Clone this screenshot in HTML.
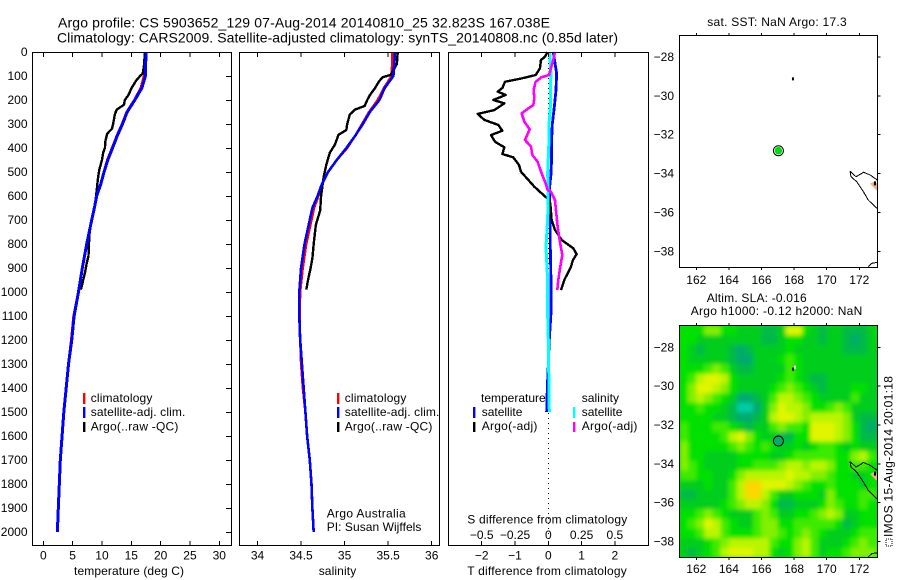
<!DOCTYPE html>
<html lang="en">
<head>
<meta charset="utf-8">
<title>Argo profile CS 5903652_129</title>
<style>
html,body{margin:0;padding:0;background:#fff;}
svg{display:block;}
text{font-family:"Liberation Sans",sans-serif;font-size:12px;fill:#000;}
.t14{font-size:14px;}
</style>
</head>
<body>
<svg id="chart" xmlns="http://www.w3.org/2000/svg" width="900" height="580" viewBox="0 0 900 580">
  <defs>
    <clipPath id="clip-map2"><rect x="680" y="325" width="198" height="232"/></clipPath>
    <filter id="soft" x="-5%" y="-5%" width="110%" height="110%"><feGaussianBlur stdDeviation="2"/></filter>
  </defs>
  <rect x="0" y="0" width="900" height="580" fill="#fff"/>

  <text class="t14" x="58" y="27.5" textLength="492" lengthAdjust="spacing">Argo profile: CS 5903652_129 07-Aug-2014 20140810_25 32.823S 167.038E</text>
  <text class="t14" x="57" y="42.5" textLength="561" lengthAdjust="spacing">Climatology: CARS2009. Satellite-adjusted climatology: synTS_20140808.nc (0.85d later)</text>

  <g id="temp-panel"></g>
  <g id="sal-panel"></g>
  <g id="diff-panel"></g>
  <g id="map1"></g>
  <g id="map2"></g>

  <text x="74" y="575" textLength="110" lengthAdjust="spacing">temperature (deg C)</text>
  <text x="318.7" y="575" textLength="37.5" lengthAdjust="spacing">salinity</text>
  <text x="467.3" y="575" textLength="159.5" lengthAdjust="spacing">T difference from climatology</text>
  <text x="467.3" y="523.5" textLength="160" lengthAdjust="spacing">S difference from climatology</text>

  <g>
    <rect x="83" y="393" width="2.4" height="11" fill="#f00"/>
    <rect x="83" y="407" width="2.4" height="11" fill="#00f"/>
    <rect x="83" y="422" width="2.4" height="10" fill="#000"/>
    <text x="90.7" y="402" textLength="61.7" lengthAdjust="spacing">climatology</text>
    <text x="90.7" y="416" textLength="94.7" lengthAdjust="spacing">satellite-adj. clim.</text>
    <text x="90.7" y="430.5" textLength="87.7" lengthAdjust="spacing">Argo(..raw -QC)</text>
  </g>
  <g>
    <rect x="337" y="393" width="2.4" height="11" fill="#f00"/>
    <rect x="337" y="407" width="2.4" height="11" fill="#00f"/>
    <rect x="337" y="422" width="2.4" height="10" fill="#000"/>
    <text x="344.7" y="402" textLength="61.7" lengthAdjust="spacing">climatology</text>
    <text x="344.7" y="416" textLength="94.7" lengthAdjust="spacing">satellite-adj. clim.</text>
    <text x="344.7" y="430.5" textLength="87.7" lengthAdjust="spacing">Argo(..raw -QC)</text>
    <text x="326.7" y="517.5" textLength="79" lengthAdjust="spacing">Argo Australia</text>
    <text x="326.7" y="531" textLength="94.7" lengthAdjust="spacing">PI: Susan Wijffels</text>
  </g>
  <g>
    <text x="481" y="402" textLength="64.7" lengthAdjust="spacing">temperature</text>
    <text x="481.7" y="416" textLength="40.7" lengthAdjust="spacing">satellite</text>
    <text x="481.7" y="430" textLength="55.7" lengthAdjust="spacing">Argo(-adj)</text>
    <text x="581.7" y="402" textLength="37.3" lengthAdjust="spacing">salinity</text>
    <text x="581.7" y="416" textLength="40.7" lengthAdjust="spacing">satellite</text>
    <text x="581.7" y="430" textLength="55.7" lengthAdjust="spacing">Argo(-adj)</text>
    <rect x="473" y="407" width="2.4" height="11" fill="#00f"/>
    <rect x="473" y="422" width="2.4" height="10" fill="#000"/>
    <rect x="573" y="407" width="2.4" height="11" fill="#0ff"/>
    <rect x="573" y="422" width="2.4" height="10" fill="#f0f"/>
  </g>

  <text x="707.3" y="26" textLength="139.4" lengthAdjust="spacing">sat. SST: NaN Argo: 17.3</text>
  <text x="706.7" y="302" textLength="100" lengthAdjust="spacing">Altim. SLA: -0.016</text>
  <text x="690.7" y="315" textLength="171.6" lengthAdjust="spacing">Argo h1000: -0.12 h2000: NaN</text>

  <rect x="886" y="539" width="6" height="7" fill="none" stroke="#000" stroke-width="1" stroke-dasharray="1 1"/>
  <text transform="translate(892.5 537) rotate(-90)" x="0" y="0" textLength="161" lengthAdjust="spacing">IMOS 15-Aug-2014 20:01:18</text>
</svg>

<script>
// ---------- chart data ----------
const depthTicks = [0,100,200,300,400,500,600,700,800,900,1000,1100,1200,1300,1400,1500,1600,1700,1800,1900,2000];
const tempTicks = [0,5,10,15,20,25,30];
const salTicks = [34,34.5,35,35.5,36];
const salTickLabels = ['34','34.5','35','35.5','36'];
const tDiffTicks = [-2,-1,0,1,2];
const tDiffTickLabels = ['\u22122','\u22121','0','1','2'];
const sDiffTicks = [-0.5,-0.25,0,0.25,0.5];
const sDiffTickLabels = ['\u22120.5','\u22120.25','0','0.25','0.5'];
const lonTicks = [162,164,166,168,170,172];
const latTicks = [-28,-30,-32,-34,-36,-38];

const climDepth = [0,100,150,200,250,300,350,400,450,500,550,600,650,700,800,900,1000,1100,1200,1300,1400,1500,1600,1700,1800,1900,2000];
const tempClim = [17.4,17.15,16.6,15.5,14.2,13.4,12.5,11.7,10.9,10.3,9.75,9.1,8.7,8.25,7.4,6.65,5.95,5.15,4.75,4.25,3.9,3.5,3.2,2.9,2.73,2.56,2.4];
const tempSat = [17.5,17.4,16.8,15.6,14.3,13.5,12.6,11.8,11.0,10.35,9.8,9.1,8.7,8.25,7.4,6.65,6.0,5.25,4.85,4.3,3.9,3.5,3.2,2.9,2.73,2.56,2.4];
const salClim = [35.55,35.54,35.45,35.38,35.28,35.2,35.12,35.03,34.91,34.81,34.74,34.7,34.65,34.62,34.56,34.52,34.49,34.485,34.49,34.5,34.52,34.55,34.57,34.6,34.62,34.63,34.645];
const salSat = [35.58,35.56,35.46,35.4,35.29,35.21,35.12,35.02,34.91,34.81,34.74,34.69,34.63,34.6,34.54,34.5,34.48,34.48,34.49,34.51,34.53,34.55,34.57,34.6,34.62,34.63,34.645];

const tempArgoDepth = [0,50,90,100,120,150,180,200,220,240,260,300,320,340,370,400,420,450,490,530,600,650,700,760,850,880,920,950,990];
const tempArgo = [17.3,17.2,16.95,16.5,15.8,15.05,14.5,13.9,13.75,12.5,12.2,11.9,11.7,10.9,10.6,10.5,10.2,10,9.55,9.3,9,8.7,8.25,7.85,7.7,7.4,7.1,6.8,6.4];
const salArgoDepth = [0,50,95,105,120,150,180,200,225,240,260,300,325,345,385,420,470,520,600,660,720,800,860,900,950,990];
const salArgo = [35.61,35.6,35.53,35.44,35.4,35.35,35.29,35.26,35.23,35.12,35.06,35.03,35.02,34.93,34.89,34.83,34.79,34.76,34.73,34.72,34.67,34.645,34.63,34.61,34.58,34.56];

const diffTArgoDepth = [0,20,33,68,96,110,124,150,165,179,200,214,242,258,283,304,328,346,374,397,425,439,471,499,533,561,589,614,630,700,741,783,818,842,867,895,950,992];
const diffTArgo = [-0.02,-0.1,-0.22,-0.25,-0.38,-0.8,-1.3,-1.38,-1.52,-1.28,-1.65,-1.32,-1.62,-2.12,-1.92,-1.5,-1.38,-1.72,-1.6,-1.32,-1.38,-1.05,-0.88,-0.82,-0.6,-0.42,-0.2,0,0.06,0.1,0.2,0.4,0.75,0.85,0.74,0.68,0.48,0.38];
const diffSArgoDepth = [0,33,96,105,124,158,193,221,235,256,290,322,367,394,429,457,506,547,575,582,617,672,728,783,846,895,950,992];
const diffSArgo = [0.05,0.0375,0.005,-0.05,-0.095,-0.11,-0.105,-0.1125,-0.15,-0.2,-0.18,-0.14,-0.175,-0.13,-0.12,-0.08,-0.05,-0.02,-0.005,0.02,0.05,0.06,0.07,0.085,0.105,0.09,0.075,0.0675];
const diffSatDepth = [0,90,160,230,300,370,440,510,575,700,810,950,1090,1200,1400,1500];
const diffTSat = [0.15,0.25,0.23,0.18,0.12,0.1,0.1,0.08,0.03,0.06,0.06,0.08,0.08,0.03,-0.03,-0.05];
const diffSSat = [0.01,0.02,0.015,0.015,0.005,0.005,0,-0.005,0,-0.005,-0.0175,-0.005,-0.005,0,0.005,0.0075];

const coastLon = [171.43,171.8,172.15,172.25,172.66,173.1];
const coastLat = [-33.88,-34.16,-33.99,-33.93,-34.07,-34.33];
const coastSouthLon = [171.43,171.49,171.84,172.25,172.55,173.07];
const coastSouthLat = [-33.88,-34.16,-34.42,-34.93,-35.36,-35.79];
const coastBottomLon = [172.55,172.76,173.1];
const coastBottomLat = [-38.79,-38.62,-38.57];
const landLon = [172.66,172.95,173.12,173.12,172.92];
const landLat = [-34.52,-34.4,-34.55,-34.9,-34.75];
const profileLon = 167.038;
const profileLat = -32.823;
const islandLon = 167.93;
const islandLat = -29.1;

const slaLevelColors = ['#00cda5','#00aa6e','#00b946','#00cd1e','#00e100','#3ceb00','#82f000','#b9f500','#e1f500','#fad700'];
const slaGrid = [
[4,4,4,6,6,4,4,3,3,3,2,2,3,8,8,4,3,2,3,3,2,2,2,3,4],
[4,4,3,3,3,3,3,3,3,3,2,2,3,4,4,3,3,2,3,3,2,1,2,3,4],
[4,3,2,3,3,3,2,1,2,3,3,3,3,4,3,3,3,3,3,3,2,2,2,3,3],
[4,3,3,3,3,3,2,1,1,3,3,3,4,5,4,3,3,3,3,3,3,3,3,3,3],
[4,4,4,5,6,5,3,2,2,3,3,3,3,5,4,3,3,3,3,3,3,3,3,3,3],
[4,5,7,8,8,7,4,3,3,3,3,3,4,5,4,3,2,2,3,3,3,3,3,3,3],
[4,6,8,8,7,6,4,3,3,3,3,4,5,6,5,4,3,2,3,3,3,4,4,3,3],
[4,6,7,6,5,4,3,1,1,2,3,5,7,7,6,5,4,3,3,3,3,5,3,3,3],
[4,4,5,4,4,3,2,0,0,1,3,6,8,7,7,6,4,4,5,6,5,3,3,3,3],
[4,4,4,4,3,3,2,1,1,2,3,7,8,8,7,6,7,7,7,7,6,3,2,2,2],
[5,4,4,4,5,5,4,3,2,3,3,5,6,5,5,4,8,8,8,7,6,4,2,1,2],
[5,4,4,4,4,5,7,8,6,4,3,3,2,2,4,4,8,8,8,7,6,4,2,2,2],
[6,4,4,4,4,4,5,6,5,4,5,4,3,3,4,3,4,5,5,4,3,4,3,3,3],
[6,4,4,3,3,3,3,4,4,4,4,3,3,4,5,5,5,5,5,4,4,6,7,5,4],
[6,5,4,3,3,3,3,4,4,5,5,5,6,7,7,6,7,7,6,4,4,5,5,4,4],
[5,5,4,4,3,3,4,6,7,7,7,7,7,8,7,7,6,6,5,4,4,3,3,4,4],
[3,3,3,4,3,3,5,7,9,9,8,8,8,7,6,5,4,4,5,4,4,4,3,4,4],
[2,2,3,3,3,3,5,7,9,9,7,5,3,3,4,4,4,3,6,4,4,4,5,5,4],
[3,3,3,3,3,4,5,6,7,7,6,4,2,2,3,3,3,4,6,5,4,4,5,4,4],
[4,4,5,6,5,4,3,3,3,5,6,5,3,3,4,4,5,6,7,6,3,3,4,4,4],
[4,5,6,8,7,5,4,3,3,5,6,6,4,4,5,5,5,5,5,4,2,3,4,4,4],
[4,4,5,7,7,5,4,4,4,5,6,6,5,4,5,6,5,4,3,3,3,4,5,5,5],
[3,3,3,4,5,6,7,7,7,7,7,5,4,4,6,7,5,3,3,3,4,5,6,5,5],
[3,2,3,4,5,7,8,8,8,7,7,4,3,4,6,7,5,3,4,4,5,6,6,6,5]
];

// ---------- axis functions ----------
const PLOT_TOP = 52.5, PLOT_BOTTOM = 545.5;
function yDepth(d){ return 52 + d * 0.24; }
function xTemp(t){ return 43.3 + t * 5.867; }
function xSal(s){ return 257.5 + (s - 34) * 87.1; }
function xDiffT(t){ return 548.3 + t * 33.3; }
function xDiffS(s){ return xDiffT(s * 4); }
function xLon(lon){ return 696.3 + (lon - 162) * 16.3; }
function yLatTop(lat){ return 57 + (-28 - lat) * 19.43; }
function yLatBottom(lat){ return 347.3 + (-28 - lat) * 19.43; }

// ---------- drawing helpers ----------
const NS = 'http://www.w3.org/2000/svg';
function make(parent, tag, attrs, name){
  const el = document.createElementNS(NS, tag);
  
  
  for (const k in attrs) el.setAttribute(k, attrs[k]);
  parent.appendChild(el);
  return el;
}
function label(parent, x, y, str, anchor, name){
  const el = make(parent, 'text', {x: x, y: y, 'text-anchor': anchor}, name);
  el.textContent = str;
  return el;
}
function box(parent, x0, x1, y0, y1, name){
  make(parent, 'rect', {x: x0, y: y0, width: x1 - x0, height: y1 - y0, fill: 'none', stroke: '#000', 'stroke-width': 1, 'shape-rendering': 'crispEdges'}, name);
}
function tick(parent, x1, y1, x2, y2, name){
  make(parent, 'line', {x1: x1, y1: y1, x2: x2, y2: y2, stroke: '#000', 'stroke-width': 1, 'shape-rendering': 'crispEdges'}, name);
}
function series(parent, xs, ys, color, width, name){
  const pts = xs.map(function(x, i){ return x.toFixed(2) + ',' + ys[i].toFixed(2); }).join(' ');
  make(parent, 'polyline', {points: pts, fill: 'none', stroke: color, 'stroke-width': width, 'stroke-linejoin': 'round', 'shape-rendering': 'crispEdges'}, name);
}
function profile(parent, values, depths, xf, color, width, name){
  series(parent, values.map(xf), depths.map(yDepth), color, width, name);
}

// ---------- temperature panel ----------
const tempPanel = document.getElementById('temp-panel');
profile(tempPanel, tempClim, climDepth, xTemp, '#f00', 2.4, 'temperature-climatology-line');
profile(tempPanel, tempArgo, tempArgoDepth, xTemp, '#000', 2.4, 'temperature-argo-line');
profile(tempPanel, tempSat, climDepth, xTemp, '#00f', 3, 'temperature-satellite-line');
box(tempPanel, 32.5, 231.5, PLOT_TOP, PLOT_BOTTOM, 'temperature-plot-frame');
depthTicks.forEach(function(d){
  tick(tempPanel, 226, Math.round(yDepth(d)) + 0.5, 231, Math.round(yDepth(d)) + 0.5, 'depth-tick');
  label(tempPanel, 27.5, yDepth(d) + 4, String(d), 'end', 'depth-tick-label');
});
tempTicks.forEach(function(t){
  tick(tempPanel, xTemp(t), 53, xTemp(t), 57, 'temperature-top-tick');
  tick(tempPanel, xTemp(t), 541, xTemp(t), 545, 'temperature-bottom-tick');
  label(tempPanel, xTemp(t), 559.5, String(t), 'middle', 'temperature-tick-label');
});

// ---------- salinity panel ----------
const salPanel = document.getElementById('sal-panel');
profile(salPanel, salClim, climDepth, xSal, '#f00', 2.4, 'salinity-climatology-line');
profile(salPanel, salArgo, salArgoDepth, xSal, '#000', 2.4, 'salinity-argo-line');
profile(salPanel, salSat, climDepth, xSal, '#00f', 2.6, 'salinity-satellite-line');
box(salPanel, 239.5, 439.5, PLOT_TOP, PLOT_BOTTOM, 'salinity-plot-frame');
salTicks.forEach(function(s, i){
  tick(salPanel, xSal(s), 53, xSal(s), 57, 'salinity-top-tick');
  tick(salPanel, xSal(s), 541, xSal(s), 545, 'salinity-bottom-tick');
  label(salPanel, xSal(s), 559.5, salTickLabels[i], 'middle', 'salinity-tick-label');
});

// ---------- difference panel ----------
const diffPanel = document.getElementById('diff-panel');
make(diffPanel, 'line', {x1: 548.5, y1: 53, x2: 548.5, y2: 545, stroke: '#000', 'stroke-width': 1, 'stroke-dasharray': '1 4', 'shape-rendering': 'crispEdges'}, 'zero-reference-line');
profile(diffPanel, diffTSat, diffSatDepth, xDiffT, '#00f', 2.8, 'difference-t-satellite-line');
profile(diffPanel, diffTArgo, diffTArgoDepth, xDiffT, '#000', 2.4, 'difference-t-argo-line');
profile(diffPanel, diffSSat, diffSatDepth, xDiffS, '#0ff', 3, 'difference-s-satellite-line');
profile(diffPanel, diffSArgo, diffSArgoDepth, xDiffS, '#f0f', 2.6, 'difference-s-argo-line');
box(diffPanel, 448.5, 648.5, PLOT_TOP, PLOT_BOTTOM, 'difference-plot-frame');
tDiffTicks.forEach(function(t, i){
  tick(diffPanel, xDiffT(t), 541, xDiffT(t), 545, 't-difference-tick');
  label(diffPanel, xDiffT(t), 559.5, tDiffTickLabels[i], 'middle', 't-difference-tick-label');
});
sDiffTicks.forEach(function(s, i){
  tick(diffPanel, xDiffS(s), 53, xDiffS(s), 57, 's-difference-tick');
  label(diffPanel, xDiffS(s), 539, sDiffTickLabels[i], 'middle', 's-difference-tick-label');
});

// ---------- maps ----------
function drawCoast(parent, yLat){
  const landPts = landLon.map(function(lon, i){ return xLon(lon).toFixed(2) + ',' + yLat(landLat[i]).toFixed(2); }).join(' ');
  make(parent, 'polygon', {points: landPts, fill: '#f4b080'}, 'land-patch');
  make(parent, 'rect', {x: xLon(172.9), y: yLat(-34.4), width: 2, height: 4, fill: '#000'}, 'island-detail');
  series(parent, coastLon.map(xLon), coastLat.map(yLat), '#000', 1, 'coastline-north');
  series(parent, coastSouthLon.map(xLon), coastSouthLat.map(yLat), '#000', 1, 'coastline-south');
  series(parent, coastBottomLon.map(xLon), coastBottomLat.map(yLat), '#000', 1, 'coastline-corner');
}
function mapFrame(parent, top, bottom, yLat, labelY, name){
  box(parent, 679.5, 877.5, top + 0.5, bottom + 0.5, name + '-frame');
  lonTicks.forEach(function(lon){
    tick(parent, xLon(lon), top - 2, xLon(lon), top, name + '-top-tick');
    tick(parent, xLon(lon), bottom + 1, xLon(lon), bottom + 3, name + '-bottom-tick');
    label(parent, xLon(lon), labelY, String(lon), 'middle', name + '-lon-label');
  });
  latTicks.forEach(function(lat){
    tick(parent, 878, yLat(lat), 880.5, yLat(lat), name + '-right-tick');
    label(parent, 674, yLat(lat) + 4, '\u2212' + Math.abs(lat), 'end', name + '-lat-label');
  });
}

const map1 = document.getElementById('map1');
make(map1, 'rect', {x: xLon(islandLon) - 1, y: yLatTop(islandLat) - 1, width: 2, height: 3, fill: '#000'}, 'island-marker');
drawCoast(map1, yLatTop);
make(map1, 'circle', {cx: xLon(profileLon), cy: yLatTop(profileLat), r: 5, fill: '#fff', stroke: '#000', 'stroke-width': 1}, 'profile-location-ring');
make(map1, 'circle', {cx: xLon(profileLon), cy: yLatTop(profileLat), r: 3.8, fill: '#00dc14'}, 'profile-location-sst');
mapFrame(map1, 35, 267, yLatTop, 284, 'sst-map');

const map2 = document.getElementById('map2');
const heatClip = make(map2, 'g', {'clip-path': 'url(#clip-map2)'}, 'sla-heatmap-clip');
make(heatClip, 'rect', {x: 680, y: 325, width: 198, height: 232, fill: '#00e000'}, 'sla-heatmap-background');
const heat = make(heatClip, 'g', {filter: 'url(#soft)'}, 'sla-heatmap');
const cellLonStep = 0.5, cellLatStep = 0.4977, gridLon0 = 161, gridLat0 = -26.885;
slaGrid.forEach(function(row, r){
  row.forEach(function(level, c){
    const x0 = xLon(gridLon0 + c * cellLonStep), x1 = xLon(gridLon0 + (c + 1) * cellLonStep);
    const y0 = yLatBottom(gridLat0 - r * cellLatStep), y1 = yLatBottom(gridLat0 - (r + 1) * cellLatStep);
    make(heat, 'rect', {x: x0 - 0.2, y: y0 - 0.2, width: x1 - x0 + 0.4, height: y1 - y0 + 0.4, fill: slaLevelColors[level]}, 'sla-cell');
  });
});
make(map2, 'rect', {x: xLon(islandLon) - 1, y: yLatBottom(islandLat) - 1, width: 2, height: 3, fill: '#000'}, 'island-marker');
make(map2, 'rect', {x: xLon(islandLon) + 1, y: yLatBottom(islandLat) - 3, width: 2, height: 3, fill: '#fff'}, 'island-highlight');
drawCoast(map2, yLatBottom);
make(map2, 'circle', {cx: xLon(profileLon), cy: yLatBottom(profileLat), r: 5, fill: '#00ae6a', stroke: '#000', 'stroke-width': 1}, 'profile-location-sla');
mapFrame(map2, 325, 557, yLatBottom, 573, 'sla-map');
</script>
</body>
</html>
